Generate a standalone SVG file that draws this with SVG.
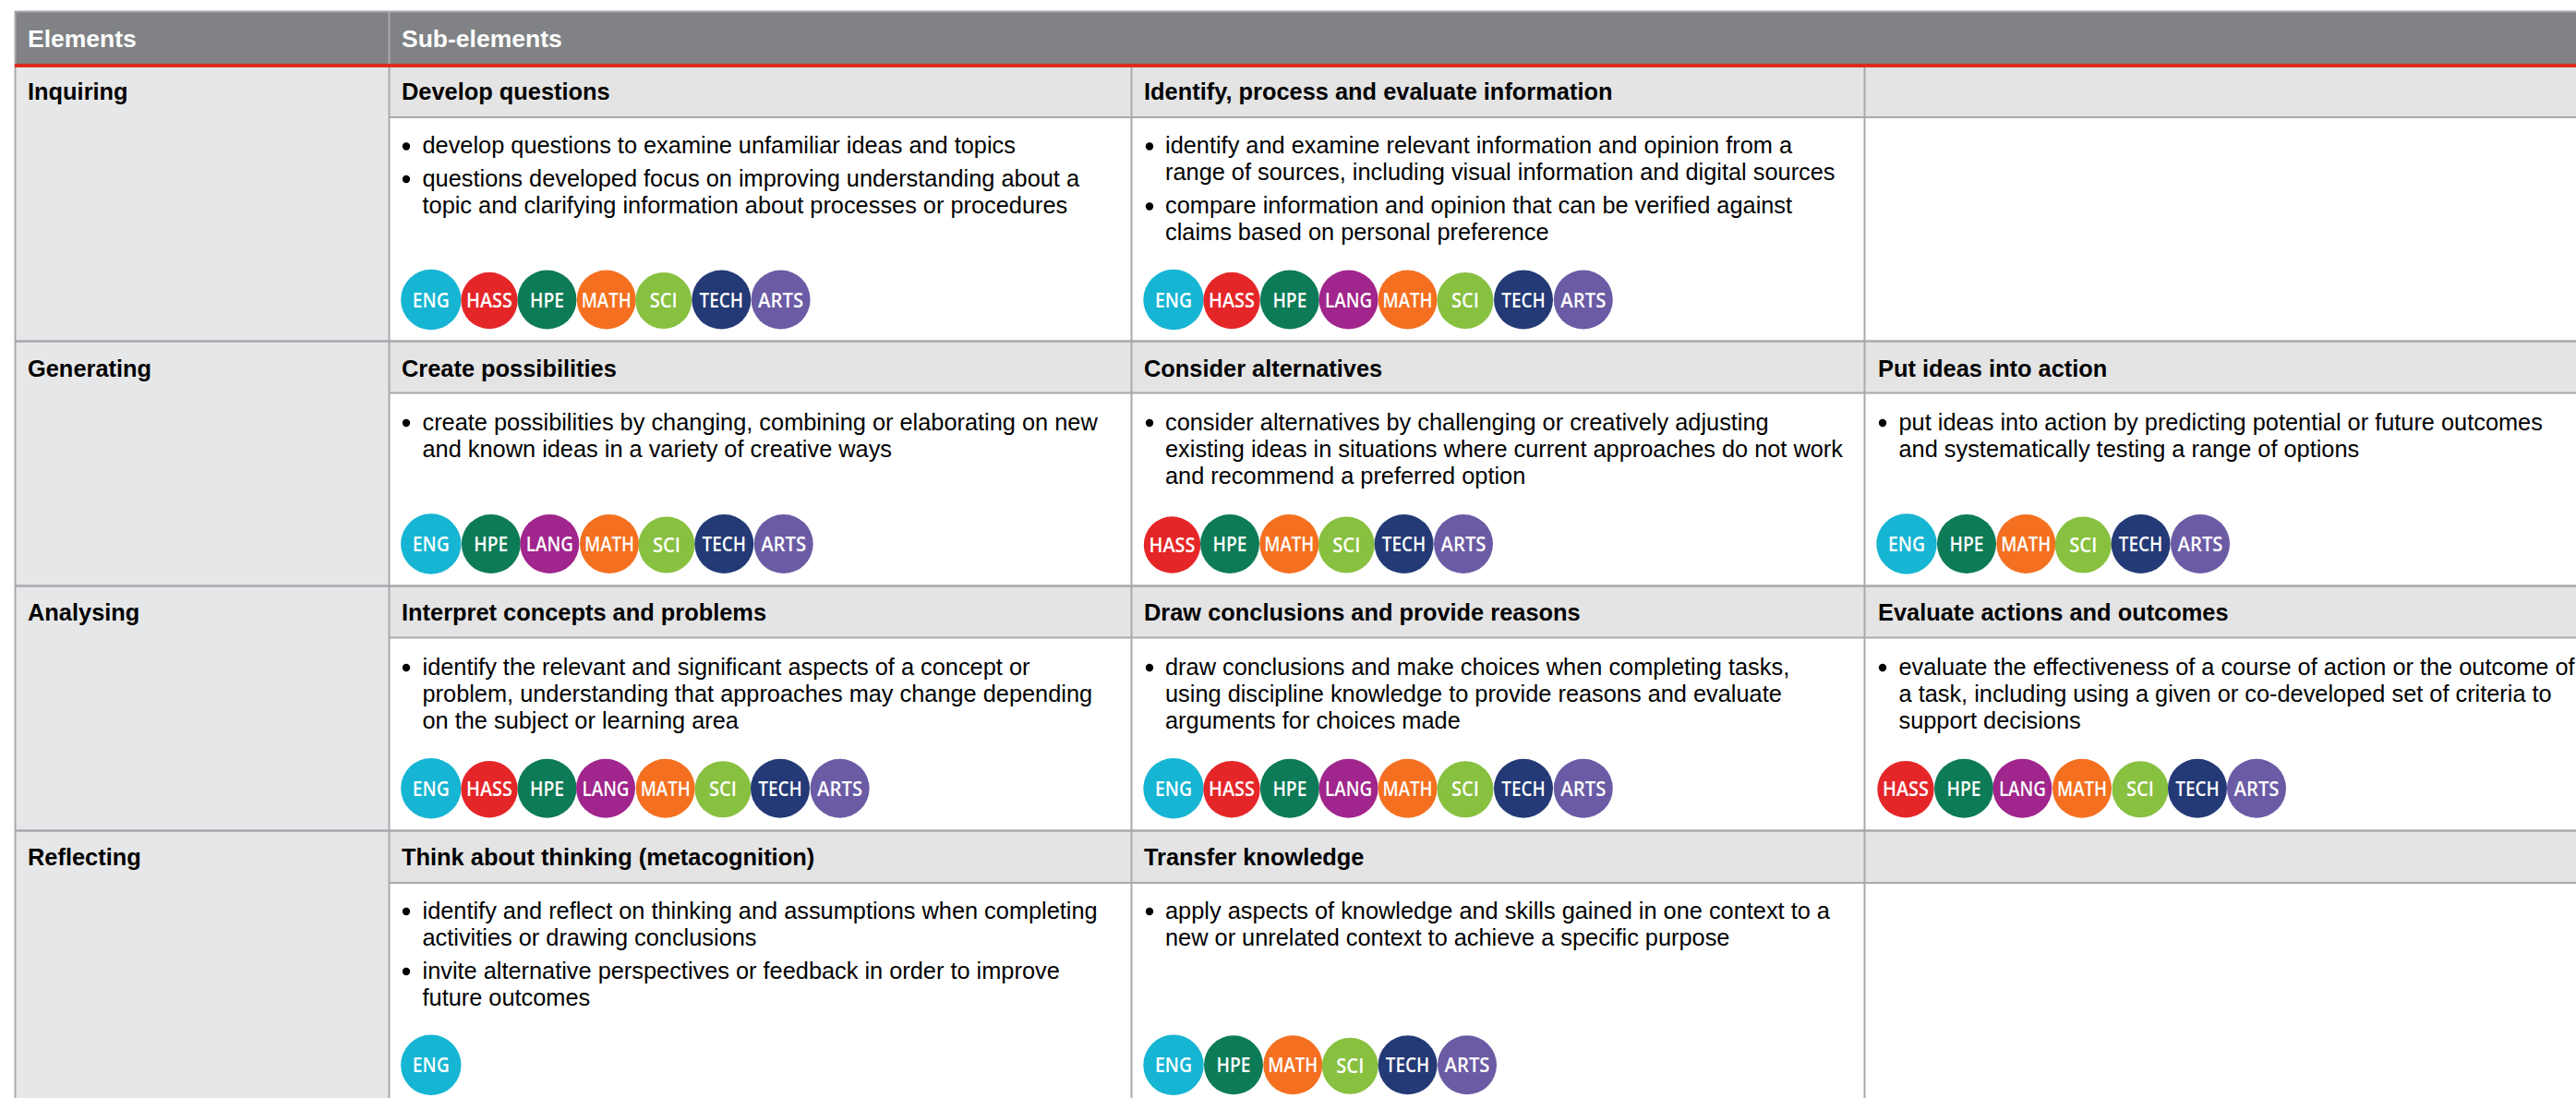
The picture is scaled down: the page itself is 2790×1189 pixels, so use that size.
<svg xmlns="http://www.w3.org/2000/svg" width="2790" height="1189" viewBox="0 0 2790 1189">
<style>
text{font-family:"Liberation Sans",Arial,sans-serif}
.h{font-size:26.5px;font-weight:700;fill:#fff}
.t{font-size:25.4px;font-weight:700;fill:#000}
.p{font-size:25.35px;fill:#000}
.dot{fill:#000}
.ln{stroke:#a7a9ac;fill:none}
.b text{font-family:"Open Sans","Noto Sans",sans-serif;font-size:22px;font-weight:600;fill:#fff;text-anchor:middle}
.eng circle{fill:#16b5d3}.hass circle{fill:#e52629}.hpe circle{fill:#0d7b57}.lang circle{fill:#a0258c}.math circle{fill:#f47020}.sci circle{fill:#88c040}.tech circle{fill:#233a76}.arts circle{fill:#6b5ba5}
</style>
<rect width="2790" height="1189" fill="#fff"/>
<g id="backgrounds">
<rect x="16" y="12" width="2774" height="58" fill="#808285"/>
<rect x="16" y="73" width="405" height="1116" fill="#e6e7e8"/>
<rect x="421" y="73" width="2369" height="54" fill="#e4e4e4"/>
<rect x="421" y="370" width="2369" height="55" fill="#e4e4e4"/>
<rect x="421" y="635" width="2369" height="55" fill="#e4e4e4"/>
<rect x="421" y="900" width="2369" height="56" fill="#e4e4e4"/>
</g>
<g id="connectors">
<path class="ln" stroke-width="2" d="M16 12.500H2790M16.500 12V1189M421.500 12V1189M1225.500 73V1189M2019.500 73V1189"/>
<path class="ln" stroke-width="2" d="M421 127H2790M421 425.500H2790M421 690.500H2790M421 956H2790"/>
<path class="ln" stroke-width="2.500" d="M16 369.500H2790M16 634.500H2790M16 899.500H2790"/>
<rect x="16" y="69" width="2774" height="4" fill="#dc2c20"/>
</g>
<g id="header">
<text class="h" x="30" y="51">Elements</text>
<text class="h" x="435" y="51">Sub-elements</text>
</g>
<g id="inquiring"><text class="t" x="30" y="108">Inquiring</text></g>
<g id="generating"><text class="t" x="30" y="408">Generating</text></g>
<g id="analysing"><text class="t" x="30" y="672">Analysing</text></g>
<g id="reflecting"><text class="t" x="30" y="937">Reflecting</text></g>

<g id="develop-questions">
<text class="t" x="435" y="108">Develop questions</text>
<circle class="dot" cx="440" cy="158.500" r="4.200"/><text class="p" x="457.500" y="166">develop questions to examine unfamiliar ideas and topics</text>
<circle class="dot" cx="440" cy="194" r="4.200"/><text class="p" x="457.500" y="202">questions developed focus on improving understanding about a</text>
<text class="p" x="457.500" y="231">topic and clarifying information about processes or procedures</text>
<g class="b eng" transform="translate(466.800 324.500)"><circle r="32.700"/><text y="8" textLength="40" lengthAdjust="spacingAndGlyphs">ENG</text></g>
<g class="b hass" transform="translate(530 325.500)"><circle r="30.700"/><text y="7.500" textLength="50" lengthAdjust="spacingAndGlyphs">HASS</text></g>
<g class="b hpe" transform="translate(592.500 324.500)"><circle r="32"/><text y="8" textLength="37" lengthAdjust="spacingAndGlyphs">HPE</text></g>
<g class="b math" transform="translate(656.700 324.500)"><circle r="32"/><text y="8" textLength="54" lengthAdjust="spacingAndGlyphs">MATH</text></g>
<g class="b sci" transform="translate(718.700 325.500)"><circle r="30.500"/><text y="7.500" textLength="30" lengthAdjust="spacingAndGlyphs">SCI</text></g>
<g class="b tech" transform="translate(781.300 324.500)"><circle r="32"/><text y="8" textLength="47.500" lengthAdjust="spacingAndGlyphs">TECH</text></g>
<g class="b arts" transform="translate(845.600 324.500)"><circle r="32"/><text y="8" textLength="49" lengthAdjust="spacingAndGlyphs">ARTS</text></g>
</g>

<g id="identify-process">
<text class="t" x="1239" y="108">Identify, process and evaluate information</text>
<circle class="dot" cx="1245" cy="158.500" r="4.200"/><text class="p" x="1262" y="166">identify and examine relevant information and opinion from a</text>
<text class="p" x="1262" y="195">range of sources, including visual information and digital sources</text>
<circle class="dot" cx="1245" cy="223.500" r="4.200"/><text class="p" x="1262" y="231">compare information and opinion that can be verified against</text>
<text class="p" x="1262" y="260">claims based on personal preference</text>
<g class="b eng" transform="translate(1271 324.500)"><circle r="32.700"/><text y="8" textLength="40" lengthAdjust="spacingAndGlyphs">ENG</text></g>
<g class="b hass" transform="translate(1334 325.500)"><circle r="30.700"/><text y="7.500" textLength="50" lengthAdjust="spacingAndGlyphs">HASS</text></g>
<g class="b hpe" transform="translate(1396.900 324.500)"><circle r="32"/><text y="8" textLength="37" lengthAdjust="spacingAndGlyphs">HPE</text></g>
<g class="b lang" transform="translate(1460.600 324.500)"><circle r="32"/><text y="8" textLength="51" lengthAdjust="spacingAndGlyphs">LANG</text></g>
<g class="b math" transform="translate(1524.600 324.500)"><circle r="32"/><text y="8" textLength="54" lengthAdjust="spacingAndGlyphs">MATH</text></g>
<g class="b sci" transform="translate(1587 325.500)"><circle r="30.500"/><text y="7.500" textLength="30" lengthAdjust="spacingAndGlyphs">SCI</text></g>
<g class="b tech" transform="translate(1650 324.500)"><circle r="32"/><text y="8" textLength="47.500" lengthAdjust="spacingAndGlyphs">TECH</text></g>
<g class="b arts" transform="translate(1714.800 324.500)"><circle r="32"/><text y="8" textLength="49" lengthAdjust="spacingAndGlyphs">ARTS</text></g>
</g>

<g id="create-possibilities">
<text class="t" x="435" y="408">Create possibilities</text>
<circle class="dot" cx="440" cy="458" r="4.200"/><text class="p" x="457.500" y="466">create possibilities by changing, combining or elaborating on new</text>
<text class="p" x="457.500" y="495">and known ideas in a variety of creative ways</text>
<g class="b eng" transform="translate(466.800 589)"><circle r="32.700"/><text y="8" textLength="40" lengthAdjust="spacingAndGlyphs">ENG</text></g>
<g class="b hpe" transform="translate(531.800 589)"><circle r="32"/><text y="8" textLength="37" lengthAdjust="spacingAndGlyphs">HPE</text></g>
<g class="b lang" transform="translate(595.300 589)"><circle r="32"/><text y="8" textLength="51" lengthAdjust="spacingAndGlyphs">LANG</text></g>
<g class="b math" transform="translate(660 589)"><circle r="32"/><text y="8" textLength="54" lengthAdjust="spacingAndGlyphs">MATH</text></g>
<g class="b sci" transform="translate(722 590)"><circle r="30.500"/><text y="7.500" textLength="30" lengthAdjust="spacingAndGlyphs">SCI</text></g>
<g class="b tech" transform="translate(784.300 589)"><circle r="32"/><text y="8" textLength="47.500" lengthAdjust="spacingAndGlyphs">TECH</text></g>
<g class="b arts" transform="translate(848.700 589)"><circle r="32"/><text y="8" textLength="49" lengthAdjust="spacingAndGlyphs">ARTS</text></g>
</g>

<g id="consider-alternatives">
<text class="t" x="1239" y="408">Consider alternatives</text>
<circle class="dot" cx="1245" cy="458" r="4.200"/><text class="p" x="1262" y="466">consider alternatives by challenging or creatively adjusting</text>
<text class="p" x="1262" y="495">existing ideas in situations where current approaches do not work</text>
<text class="p" x="1262" y="524">and recommend a preferred option</text>
<g class="b hass" transform="translate(1269.500 590)"><circle r="30.700"/><text y="7.500" textLength="50" lengthAdjust="spacingAndGlyphs">HASS</text></g>
<g class="b hpe" transform="translate(1332 589)"><circle r="32"/><text y="8" textLength="37" lengthAdjust="spacingAndGlyphs">HPE</text></g>
<g class="b math" transform="translate(1396.300 589)"><circle r="32"/><text y="8" textLength="54" lengthAdjust="spacingAndGlyphs">MATH</text></g>
<g class="b sci" transform="translate(1458.300 590)"><circle r="30.500"/><text y="7.500" textLength="30" lengthAdjust="spacingAndGlyphs">SCI</text></g>
<g class="b tech" transform="translate(1520.600 589)"><circle r="32"/><text y="8" textLength="47.500" lengthAdjust="spacingAndGlyphs">TECH</text></g>
<g class="b arts" transform="translate(1585 589)"><circle r="32"/><text y="8" textLength="49" lengthAdjust="spacingAndGlyphs">ARTS</text></g>
</g>

<g id="put-ideas">
<text class="t" x="2034" y="408">Put ideas into action</text>
<circle class="dot" cx="2039" cy="458" r="4.200"/><text class="p" x="2056.500" y="466">put ideas into action by predicting potential or future outcomes</text>
<text class="p" x="2056.500" y="495">and systematically testing a range of options</text>
<g class="b eng" transform="translate(2065 589)"><circle r="32.700"/><text y="8" textLength="40" lengthAdjust="spacingAndGlyphs">ENG</text></g>
<g class="b hpe" transform="translate(2130 589)"><circle r="32"/><text y="8" textLength="37" lengthAdjust="spacingAndGlyphs">HPE</text></g>
<g class="b math" transform="translate(2194.300 589)"><circle r="32"/><text y="8" textLength="54" lengthAdjust="spacingAndGlyphs">MATH</text></g>
<g class="b sci" transform="translate(2256.300 590)"><circle r="30.500"/><text y="7.500" textLength="30" lengthAdjust="spacingAndGlyphs">SCI</text></g>
<g class="b tech" transform="translate(2318.600 589)"><circle r="32"/><text y="8" textLength="47.500" lengthAdjust="spacingAndGlyphs">TECH</text></g>
<g class="b arts" transform="translate(2383 589)"><circle r="32"/><text y="8" textLength="49" lengthAdjust="spacingAndGlyphs">ARTS</text></g>
</g>

<g id="interpret-concepts">
<text class="t" x="435" y="672">Interpret concepts and problems</text>
<circle class="dot" cx="440" cy="723" r="4.200"/><text class="p" x="457.500" y="731">identify the relevant and significant aspects of a concept or</text>
<text class="p" x="457.500" y="760">problem, understanding that approaches may change depending</text>
<text class="p" x="457.500" y="789">on the subject or learning area</text>
<g class="b eng" transform="translate(466.800 853.700)"><circle r="32.700"/><text y="8" textLength="40" lengthAdjust="spacingAndGlyphs">ENG</text></g>
<g class="b hass" transform="translate(530 854.700)"><circle r="30.700"/><text y="7.500" textLength="50" lengthAdjust="spacingAndGlyphs">HASS</text></g>
<g class="b hpe" transform="translate(592.500 853.700)"><circle r="32"/><text y="8" textLength="37" lengthAdjust="spacingAndGlyphs">HPE</text></g>
<g class="b lang" transform="translate(656 853.700)"><circle r="32"/><text y="8" textLength="51" lengthAdjust="spacingAndGlyphs">LANG</text></g>
<g class="b math" transform="translate(720.700 853.700)"><circle r="32"/><text y="8" textLength="54" lengthAdjust="spacingAndGlyphs">MATH</text></g>
<g class="b sci" transform="translate(783 854.700)"><circle r="30.500"/><text y="7.500" textLength="30" lengthAdjust="spacingAndGlyphs">SCI</text></g>
<g class="b tech" transform="translate(845 853.700)"><circle r="32"/><text y="8" textLength="47.500" lengthAdjust="spacingAndGlyphs">TECH</text></g>
<g class="b arts" transform="translate(909.600 853.700)"><circle r="32"/><text y="8" textLength="49" lengthAdjust="spacingAndGlyphs">ARTS</text></g>
</g>

<g id="draw-conclusions">
<text class="t" x="1239" y="672">Draw conclusions and provide reasons</text>
<circle class="dot" cx="1245" cy="723" r="4.200"/><text class="p" x="1262" y="731">draw conclusions and make choices when completing tasks,</text>
<text class="p" x="1262" y="760">using discipline knowledge to provide reasons and evaluate</text>
<text class="p" x="1262" y="789">arguments for choices made</text>
<g class="b eng" transform="translate(1271 853.700)"><circle r="32.700"/><text y="8" textLength="40" lengthAdjust="spacingAndGlyphs">ENG</text></g>
<g class="b hass" transform="translate(1334 854.700)"><circle r="30.700"/><text y="7.500" textLength="50" lengthAdjust="spacingAndGlyphs">HASS</text></g>
<g class="b hpe" transform="translate(1396.900 853.700)"><circle r="32"/><text y="8" textLength="37" lengthAdjust="spacingAndGlyphs">HPE</text></g>
<g class="b lang" transform="translate(1460.600 853.700)"><circle r="32"/><text y="8" textLength="51" lengthAdjust="spacingAndGlyphs">LANG</text></g>
<g class="b math" transform="translate(1524.600 853.700)"><circle r="32"/><text y="8" textLength="54" lengthAdjust="spacingAndGlyphs">MATH</text></g>
<g class="b sci" transform="translate(1587 854.700)"><circle r="30.500"/><text y="7.500" textLength="30" lengthAdjust="spacingAndGlyphs">SCI</text></g>
<g class="b tech" transform="translate(1650 853.700)"><circle r="32"/><text y="8" textLength="47.500" lengthAdjust="spacingAndGlyphs">TECH</text></g>
<g class="b arts" transform="translate(1714.800 853.700)"><circle r="32"/><text y="8" textLength="49" lengthAdjust="spacingAndGlyphs">ARTS</text></g>
</g>

<g id="evaluate-actions">
<text class="t" x="2034" y="672">Evaluate actions and outcomes</text>
<circle class="dot" cx="2039" cy="723" r="4.200"/><text class="p" x="2056.500" y="731">evaluate the effectiveness of a course of action or the outcome of</text>
<text class="p" x="2056.500" y="760">a task, including using a given or co-developed set of criteria to</text>
<text class="p" x="2056.500" y="789">support decisions</text>
<g class="b hass" transform="translate(2064 854.700)"><circle r="30.700"/><text y="7.500" textLength="50" lengthAdjust="spacingAndGlyphs">HASS</text></g>
<g class="b hpe" transform="translate(2127 853.700)"><circle r="32"/><text y="8" textLength="37" lengthAdjust="spacingAndGlyphs">HPE</text></g>
<g class="b lang" transform="translate(2190.400 853.700)"><circle r="32"/><text y="8" textLength="51" lengthAdjust="spacingAndGlyphs">LANG</text></g>
<g class="b math" transform="translate(2255 853.700)"><circle r="32"/><text y="8" textLength="54" lengthAdjust="spacingAndGlyphs">MATH</text></g>
<g class="b sci" transform="translate(2318 854.700)"><circle r="30.500"/><text y="7.500" textLength="30" lengthAdjust="spacingAndGlyphs">SCI</text></g>
<g class="b tech" transform="translate(2380 853.700)"><circle r="32"/><text y="8" textLength="47.500" lengthAdjust="spacingAndGlyphs">TECH</text></g>
<g class="b arts" transform="translate(2444 853.700)"><circle r="32"/><text y="8" textLength="49" lengthAdjust="spacingAndGlyphs">ARTS</text></g>
</g>

<g id="think-about-thinking">
<text class="t" x="435" y="937">Think about thinking (metacognition)</text>
<circle class="dot" cx="440" cy="987" r="4.200"/><text class="p" x="457.500" y="995">identify and reflect on thinking and assumptions when completing</text>
<text class="p" x="457.500" y="1024">activities or drawing conclusions</text>
<circle class="dot" cx="440" cy="1052" r="4.200"/><text class="p" x="457.500" y="1060">invite alternative perspectives or feedback in order to improve</text>
<text class="p" x="457.500" y="1089">future outcomes</text>
<g class="b eng" transform="translate(466.800 1153.300)"><circle r="32.700"/><text y="8" textLength="40" lengthAdjust="spacingAndGlyphs">ENG</text></g>
</g>

<g id="transfer-knowledge">
<text class="t" x="1239" y="937">Transfer knowledge</text>
<circle class="dot" cx="1245" cy="987" r="4.200"/><text class="p" x="1262" y="995">apply aspects of knowledge and skills gained in one context to a</text>
<text class="p" x="1262" y="1024">new or unrelated context to achieve a specific purpose</text>
<g class="b eng" transform="translate(1271 1153.300)"><circle r="32.700"/><text y="8" textLength="40" lengthAdjust="spacingAndGlyphs">ENG</text></g>
<g class="b hpe" transform="translate(1336 1153.300)"><circle r="32"/><text y="8" textLength="37" lengthAdjust="spacingAndGlyphs">HPE</text></g>
<g class="b math" transform="translate(1400.300 1153.300)"><circle r="32"/><text y="8" textLength="54" lengthAdjust="spacingAndGlyphs">MATH</text></g>
<g class="b sci" transform="translate(1462.300 1154.300)"><circle r="30.500"/><text y="7.500" textLength="30" lengthAdjust="spacingAndGlyphs">SCI</text></g>
<g class="b tech" transform="translate(1524.600 1153.300)"><circle r="32"/><text y="8" textLength="47.500" lengthAdjust="spacingAndGlyphs">TECH</text></g>
<g class="b arts" transform="translate(1589 1153.300)"><circle r="32"/><text y="8" textLength="49" lengthAdjust="spacingAndGlyphs">ARTS</text></g>
</g>
</svg>
